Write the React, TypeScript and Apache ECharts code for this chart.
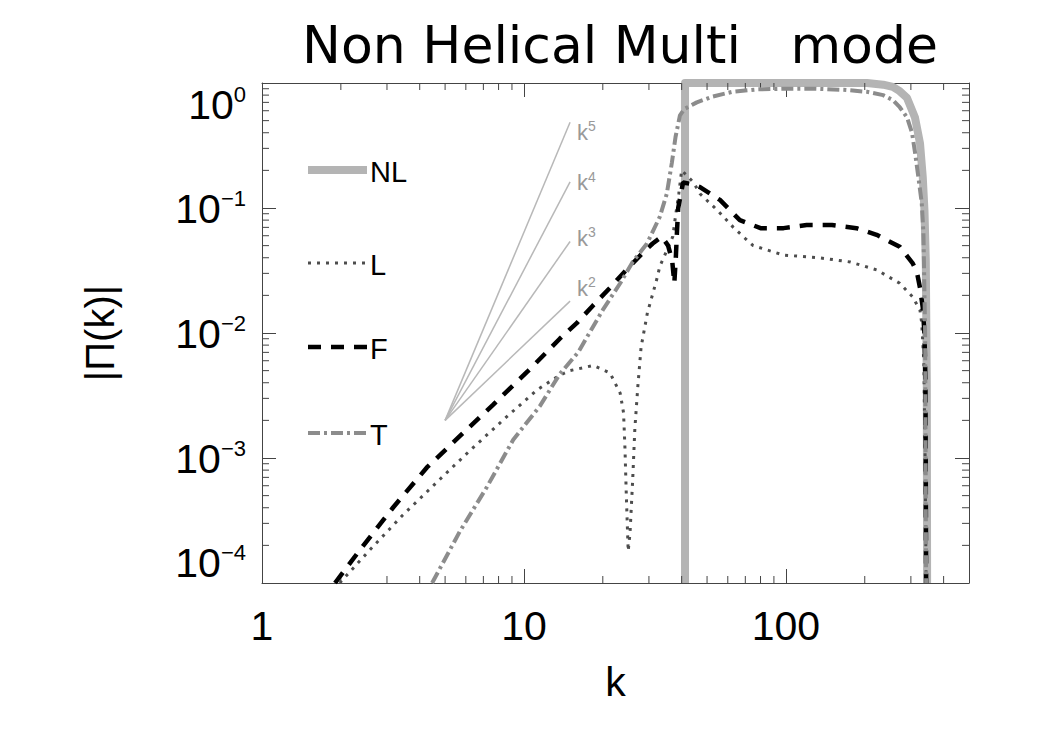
import React, { useEffect, useRef } from "react";
import * as echarts from "echarts";

// ---------- text ----------
const TITLE = "Non Helical Multi   mode";
const X_NAME = "k";
const Y_NAME = "|\u03A0(k)|";
const LEGEND_NAMES = ["NL", "L", "F", "T"];

// ---------- data ----------
const NL_K = [41.2, 41.2, 60, 100, 150, 204, 235, 256, 272, 290, 311, 325, 333, 338, 342, 345, 346];
const NL_V = [1e-4, 1.0, 1.0, 1.0, 1.0, 1.0, 0.97, 0.93, 0.86, 0.76, 0.53, 0.33, 0.177, 0.096, 0.038, 0.004, 1e-4];

const L_K = [1.98, 2.58, 3.45, 4.65, 6.2, 8.3, 11.2, 13.7, 15, 18.4, 21.3, 23.3, 24, 24.3, 24.6, 25, 25.4, 26, 26.5, 27.2, 28, 29.6, 32, 33, 35, 37, 38, 39, 40, 44.4, 47, 55, 63, 70, 75, 98, 134, 176, 222, 272, 305, 325, 330, 336, 340, 343];
const L_V = [1e-4, 1.84e-4, 3.5e-4, 6.4e-4, 1.14e-3, 2.0e-3, 3.5e-3, 4.6e-3, 5.0e-3, 5.5e-3, 4.8e-3, 3.3e-3, 2.3e-3, 1.2e-3, 4.9e-4, 1.8e-4, 2.5e-4, 6.6e-4, 1.7e-3, 3.7e-3, 7.7e-3, 0.0145, 0.026, 0.034, 0.045, 0.059, 0.09, 0.13, 0.2, 0.16, 0.13, 0.095, 0.07, 0.057, 0.05, 0.042, 0.04, 0.037, 0.032, 0.025, 0.0194, 0.0152, 0.012, 0.006, 0.001, 1e-4];

const F_K = [1.9, 2.37, 3.16, 4.26, 5.7, 7.6, 10.3, 13.7, 15.9, 18.4, 21.3, 24.6, 28.5, 31, 33.6, 35.5, 36.8, 37.5, 38, 38.4, 38.8, 40.5, 44, 47, 56, 66.7, 80, 98, 120, 150, 186, 222, 272, 305, 316, 325, 333, 338, 341, 343];
const F_V = [1e-4, 1.85e-4, 4.0e-4, 8.4e-4, 1.5e-3, 2.65e-3, 4.9e-3, 9.0e-3, 0.012, 0.0167, 0.023, 0.032, 0.044, 0.052, 0.059, 0.05, 0.038, 0.025, 0.04, 0.066, 0.1, 0.16, 0.155, 0.147, 0.116, 0.08, 0.069, 0.069, 0.073, 0.073, 0.069, 0.061, 0.049, 0.036, 0.031, 0.023, 0.016, 0.01, 0.004, 1e-4];

const T_K = [4.46, 5.7, 7.2, 9.1, 11.5, 13.7, 16.1, 20, 23.3, 26, 29.5, 33, 35.1, 36.7, 37.9, 39.4, 41, 45.7, 52.6, 62.5, 78, 100, 130, 170, 204, 235, 256, 272, 290, 303, 311, 320, 330, 335, 340, 343];
const T_V = [1e-4, 2.6e-4, 5.8e-4, 1.4e-3, 2.6e-3, 4.7e-3, 7.0e-3, 0.0153, 0.025, 0.037, 0.052, 0.085, 0.13, 0.23, 0.37, 0.55, 0.62, 0.7, 0.78, 0.85, 0.89, 0.9, 0.9, 0.88, 0.85, 0.8, 0.73, 0.64, 0.53, 0.4, 0.28, 0.18, 0.11, 0.063, 0.01, 1e-4];

// power-law guides
const GUIDE_K = [5, 15];
const GUIDE_K2 = [0.002, 0.018];
const GUIDE_K3 = [0.002, 0.054];
const GUIDE_K4 = [0.002, 0.162];
const GUIDE_K5 = [0.002, 0.486];

// axis ticks
const X_MIN = 1;
const X_MAX = 500;
const Y_MIN = 1e-4;
const Y_MAX = 1;
const MINOR_X_TICKS = [2, 3, 4, 5, 6, 7, 8, 9, 20, 30, 40, 50, 60, 70, 80, 90, 200, 300, 400];
const MINOR_Y_TICKS = [
  2e-4, 3e-4, 4e-4, 5e-4, 6e-4, 7e-4, 8e-4, 9e-4,
  2e-3, 3e-3, 4e-3, 5e-3, 6e-3, 7e-3, 8e-3, 9e-3,
  2e-2, 3e-2, 4e-2, 5e-2, 6e-2, 7e-2, 8e-2, 9e-2,
  2e-1, 3e-1, 4e-1, 5e-1, 6e-1, 7e-1, 8e-1, 9e-1,
];

const FONT = "'Liberation Sans', Arial, sans-serif";
const TITLE_FONT = "'DejaVu Sans', 'Liberation Sans', sans-serif";
const AXIS_COLOR = "#444";
const NL_COLOR = "#b4b4b4";
const L_COLOR = "#4d4d4d";
const F_COLOR = "#000000";
const T_COLOR = "#8c8c8c";
const GUIDE_COLOR = "#b8b8b8";

const zip = (a: number[], b: number[]) => a.map((v, i) => [v, b[i]]);

const supLabel = (v: number) => {
  const e = Math.round(Math.log10(v));
  const s = e < 0 ? "\u2212" + -e : String(e);
  return `{b|10}{s|${s}}`;
};

function buildOption() {
  const axisLine = { show: true, lineStyle: { color: AXIS_COLOR, width: 1 } };
  const axisTick = { show: true, inside: true, length: 14, lineStyle: { color: AXIS_COLOR, width: 1 } };

  const guideSeries = (name: string, vals: number[], exp: string, offY: number) => ({
    name,
    type: "line",
    data: zip(GUIDE_K, vals),
    symbol: "none",
    silent: true,
    lineStyle: { color: GUIDE_COLOR, width: 1.5 },
    endLabel: {
      show: true,
      distance: 7,
      offset: [0, offY],
      formatter: `{k|k}{e|${exp}}`,
      rich: {
        k: { fontFamily: FONT, fontSize: 22, color: "#999", lineHeight: 24, verticalAlign: "bottom" },
        e: { fontFamily: FONT, fontSize: 14, color: "#999", lineHeight: 13, verticalAlign: "top" },
      },
    },
    z: 1,
  });

  const curve = (name: string, ks: number[], vs: number[], lineStyle: any, z: number) => ({
    name,
    type: "line",
    data: zip(ks, vs),
    symbol: "none",
    silent: true,
    clip: true,
    lineStyle,
    z,
  });

  const legendY = [170, 263, 347, 433];
  const legendStyles = [
    { stroke: NL_COLOR, lineWidth: 8 },
    { stroke: L_COLOR, lineWidth: 3, lineDash: [3, 6] },
    { stroke: F_COLOR, lineWidth: 4.5, lineDash: [13, 10] },
    { stroke: T_COLOR, lineWidth: 4, lineDash: [12, 4, 3, 4] },
  ];
  const legendGraphics: any[] = [];
  LEGEND_NAMES.forEach((n, i) => {
    legendGraphics.push({
      type: "line",
      shape: { x1: 308, y1: legendY[i], x2: 367, y2: legendY[i] },
      style: legendStyles[i],
      silent: true,
    });
    legendGraphics.push({
      type: "text",
      x: 370,
      y: legendY[i] + 2,
      style: {
        text: n,
        fontFamily: FONT,
        fontSize: 29,
        fill: "#000",
        align: "left",
        verticalAlign: "middle",
      },
      silent: true,
    });
  });

  return {
    animation: false,
    backgroundColor: "#ffffff",
    title: {
      text: TITLE,
      left: 615,
      top: 14,
      textAlign: "center",
      textStyle: { fontFamily: TITLE_FONT, fontSize: 52, fontWeight: "normal", color: "#000" },
    },
    grid: { left: 262, right: 81, top: 83, bottom: 167 },
    xAxis: [
      {
        type: "log",
        logBase: 10,
        min: X_MIN,
        max: X_MAX,
        position: "bottom",
        name: X_NAME,
        nameLocation: "middle",
        nameGap: 78,
        nameTextStyle: { fontFamily: FONT, fontSize: 41, color: "#000" },
        axisLine,
        axisTick,
        splitLine: { show: false },
        minorTick: { show: false },
        axisLabel: {
          margin: 22,
          fontFamily: FONT,
          fontSize: 41,
          color: "#000",
          showMaxLabel: false,
          formatter: (v: number) => String(Math.round(v)),
        },
      },
      {
        type: "log",
        logBase: 10,
        min: X_MIN,
        max: X_MAX,
        position: "top",
        axisLine,
        axisTick,
        splitLine: { show: false },
        axisLabel: { show: false },
      },
    ],
    yAxis: [
      {
        type: "log",
        logBase: 10,
        min: Y_MIN,
        max: Y_MAX,
        position: "left",
        name: Y_NAME,
        nameLocation: "middle",
        nameGap: 142,
        nameTextStyle: { fontFamily: FONT, fontSize: 40, color: "#000" },
        axisLine,
        axisTick,
        splitLine: { show: false },
        axisLabel: {
          margin: 16,
          formatter: supLabel,
          verticalAlignMaxLabel: "top",
          verticalAlignMinLabel: "bottom",
          rich: {
            b: { fontFamily: FONT, fontSize: 41, color: "#000", lineHeight: 42, verticalAlign: "bottom" },
            s: { fontFamily: FONT, fontSize: 22, color: "#000", lineHeight: 18, verticalAlign: "top" },
          },
        },
      },
      {
        type: "log",
        logBase: 10,
        min: Y_MIN,
        max: Y_MAX,
        position: "right",
        axisLine,
        axisTick,
        splitLine: { show: false },
        axisLabel: { show: false },
      },
    ],
    graphic: legendGraphics,
    series: [
      // minor ticks on x (bottom and top)
      {
        type: "custom",
        silent: true,
        xAxisIndex: 0,
        yAxisIndex: 0,
        data: MINOR_X_TICKS.map((k) => [k, Y_MAX]),
        renderItem: (params: any, api: any) => {
          const p = api.coord([api.value(0), Y_MAX]);
          const cs = params.coordSys;
          const st = { stroke: AXIS_COLOR, lineWidth: 1 };
          return {
            type: "group",
            children: [
              { type: "line", shape: { x1: p[0], y1: cs.y + cs.height, x2: p[0], y2: cs.y + cs.height - 7 }, style: st },
              { type: "line", shape: { x1: p[0], y1: cs.y, x2: p[0], y2: cs.y + 7 }, style: st },
            ],
          };
        },
        z: 3,
      },
      // minor ticks on y (left and right)
      {
        type: "custom",
        silent: true,
        xAxisIndex: 0,
        yAxisIndex: 0,
        data: MINOR_Y_TICKS.map((v) => [X_MIN, v]),
        renderItem: (params: any, api: any) => {
          const p = api.coord([X_MIN, api.value(1)]);
          const cs = params.coordSys;
          const st = { stroke: AXIS_COLOR, lineWidth: 1 };
          return {
            type: "group",
            children: [
              { type: "line", shape: { x1: cs.x, y1: p[1], x2: cs.x + 7, y2: p[1] }, style: st },
              { type: "line", shape: { x1: cs.x + cs.width, y1: p[1], x2: cs.x + cs.width - 7, y2: p[1] }, style: st },
            ],
          };
        },
        z: 3,
      },
      guideSeries("k^5", GUIDE_K5, "5", 9),
      guideSeries("k^4", GUIDE_K4, "4", 0),
      guideSeries("k^3", GUIDE_K3, "3", -4),
      guideSeries("k^2", GUIDE_K2, "2", -14),
      curve("NL", NL_K, NL_V, { color: NL_COLOR, width: 8, type: "solid", join: "round" }, 2),
      curve("L", L_K, L_V, { color: L_COLOR, width: 3, type: [3, 6] }, 3),
      curve("F", F_K, F_V, { color: F_COLOR, width: 4.5, type: [13, 10] }, 4),
      curve("T", T_K, T_V, { color: T_COLOR, width: 4, type: [12, 4, 3, 4] }, 5),
    ],
  };
}

export default function App() {
  const ref = useRef<HTMLDivElement | null>(null);
  useEffect(() => {
    if (!ref.current) return;
    const chart = echarts.init(ref.current, undefined, { renderer: "svg" });
    chart.setOption(buildOption() as any);
    return () => {
      chart.dispose();
    };
  }, []);
  return (
    <div
      ref={ref}
      style={{ position: "fixed", left: 0, top: 0, width: 1050, height: 750, background: "#fff" }}
    />
  );
}
